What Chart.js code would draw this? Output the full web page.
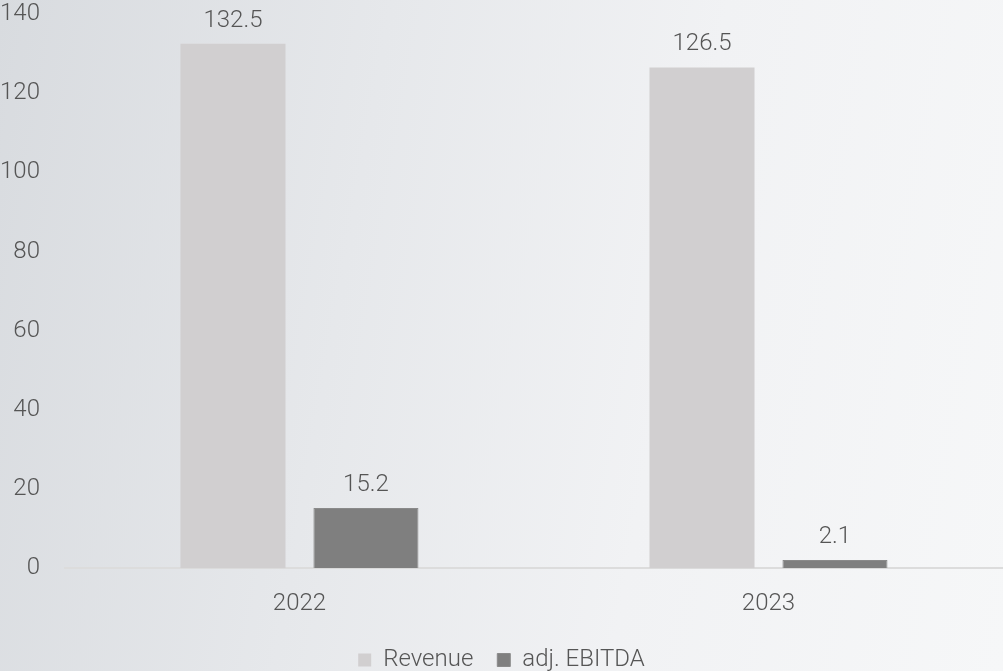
<!DOCTYPE html>
<html>
<head>
<meta charset="utf-8">
<script src="https://cdn.jsdelivr.net/npm/chart.js@4/dist/chart.umd.min.js"></script>
<style>
  html, body { margin: 0; padding: 0; }
  body {
    width: 1003px; height: 671px; overflow: hidden;
    background: linear-gradient(100deg, #d8dbdf 0%, #e6e8eb 35%, #f1f2f4 65%, #f6f7f8 100%);
  }
  #wrap { position: relative; width: 1003px; height: 671px; }
</style>
</head>
<body>
<div id="wrap"><canvas id="c"></canvas></div>
<script>
const categories = ["2022", "2023"];
const revenue = [132.5, 126.5];
const adjEbitda = [15.2, 2.1];
const seriesNames = ["Revenue", "adj. EBITDA"];

const FONT = "Roboto";
const FS = 24;
Chart.defaults.font.family = FONT;
Chart.defaults.font.weight = 300;
Chart.defaults.color = "#555555";

const valueLabels = {
  id: "valueLabels",
  afterDatasetsDraw(chart) {
    const ctx = chart.ctx;
    ctx.save();
    ctx.font = "300 " + FS + "px " + FONT;
    ctx.fillStyle = "#555555";
    ctx.textAlign = "center";
    ctx.textBaseline = "bottom";
    chart.data.datasets.forEach((ds, i) => {
      const meta = chart.getDatasetMeta(i);
      meta.data.forEach((bar, j) => {
        ctx.fillText(ds.data[j].toFixed(1), bar.x, bar.y - 11);
      });
    });
    ctx.restore();
  }
};

new Chart(document.getElementById("c"), {
  type: "bar",
  data: {
    labels: categories,
    datasets: [
      { label: seriesNames[0], data: revenue, backgroundColor: "#d1cfd0", borderWidth: 0 },
      { label: seriesNames[1], data: adjEbitda, backgroundColor: "#7f7f7f", borderColor: "#8a8a8a", borderWidth: 1 }
    ]
  },
  options: {
    responsive: true,
    maintainAspectRatio: false,
    animation: false,
    datasets: { bar: { categoryPercentage: 0.567, barPercentage: 0.79 } },
    layout: { padding: { top: 0, right: 0, left: 0, bottom: -11 } },
    scales: {
      x: {
        grid: { display: false, drawTicks: false },
        border: { display: true, color: "#dcdcdc", width: 2 },
        ticks: { font: { size: FS, weight: 300 }, color: "#555555", padding: 21 },
        afterFit(scale) { scale.height -= 15; }
      },
      y: {
        min: 0, max: 140,
        grid: { display: false, drawTicks: false },
        border: { display: false },
        ticks: { stepSize: 20, font: { size: FS, weight: 300 }, color: "#555555", padding: 25 },
        afterFit(scale) { scale.paddingTop = 14; scale.width -= 25; }
      }
    },
    plugins: {
      legend: {
        position: "bottom",
        labels: { boxWidth: 13, boxHeight: 13, padding: 24, font: { size: FS, weight: 300 }, color: "#555555" }
      },
      tooltip: { enabled: false }
    }
  },
  plugins: [valueLabels]
});
</script>
</body>
</html>
